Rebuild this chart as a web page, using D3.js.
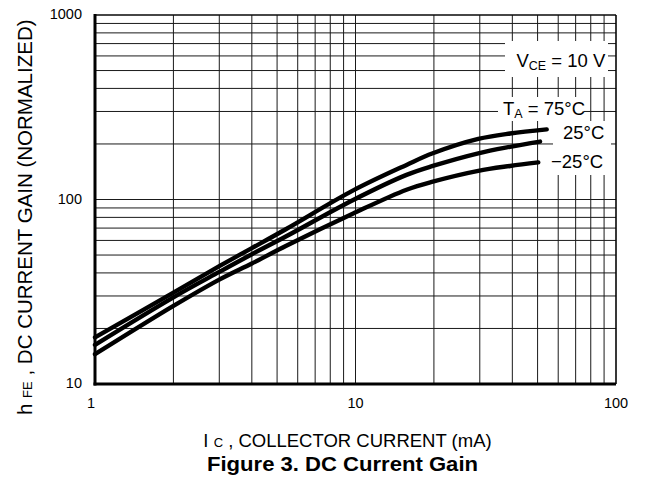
<!DOCTYPE html>
<html>
<head>
<meta charset="utf-8">
<script src="https://cdn.jsdelivr.net/npm/d3@7"></script>
<style>
  html, body { margin: 0; padding: 0; background: #fff; }
  svg { display: block; font-family: "Liberation Sans", Arial, Helvetica, sans-serif; }
</style>
</head>
<body>
<svg id="chart" width="645" height="495"></svg>
<script>
// Collector current (mA) and normalized DC current gain, one pair of arrays per ambient temperature
const currentMA_75 = [1, 2, 3, 4, 5.4, 9.8, 15.7, 19.8, 29.6, 39.2, 54.2];
const gain_75      = [17.9, 31.3, 43.5, 54.5, 69, 112, 154, 178, 213, 228, 240];

const currentMA_25 = [1, 2, 3, 4, 5.4, 9.8, 15.7, 19.8, 29.6, 39.2, 51.1];
const gain_25      = [16.3, 29.5, 40.5, 50.5, 63, 99.4, 136, 152, 178, 193, 206];

const currentMA_m25 = [1, 2, 3, 4, 5.4, 9.8, 15.7, 19.8, 29.6, 39.2, 50.3];
const gain_m25      = [14.5, 26.5, 36.8, 45, 56, 84, 113, 125, 143, 152, 159];

const xTickLabels = [1, 10, 100];
const yTickLabels = [10, 100, 1000];
const curveLabels = ["25°C", "\u221225°C"];

const svg = d3.select("#chart");

const x = d3.scaleLog().domain([1, 100]).range([95, 616]);
const y = d3.scaleLog().domain([10, 1000]).range([384, 15]);

// log grid
const grid = svg.append("g").attr("stroke", "#1a1a1a").attr("stroke-width", 1).attr("fill", "none");
grid.selectAll("line.v").data(x.ticks()).join("line")
  .attr("class", "v")
  .attr("x1", d => x(d)).attr("x2", d => x(d))
  .attr("y1", y(1000)).attr("y2", y(10));
grid.selectAll("line.h").data(y.ticks()).join("line")
  .attr("class", "h")
  .attr("x1", x(1)).attr("x2", x(100))
  .attr("y1", d => y(d)).attr("y2", d => y(d));

// white panels behind the annotations
const panels = [
  [505, 41, 103, 36],
  [498, 97, 86, 24],
  [553, 121, 58, 26],
  [545, 147, 61, 28]
];
svg.append("g").selectAll("rect").data(panels).join("rect")
  .attr("x", d => d[0]).attr("y", d => d[1])
  .attr("width", d => d[2]).attr("height", d => d[3])
  .attr("fill", "#fff");

// gain curves
const line = d3.line()
  .x(d => x(d[0]))
  .y(d => y(d[1]))
  .curve(d3.curveCatmullRom.alpha(0.5));

const series = [
  d3.zip(currentMA_75, gain_75),
  d3.zip(currentMA_25, gain_25),
  d3.zip(currentMA_m25, gain_m25)
];
svg.append("g").selectAll("path").data(series).join("path")
  .attr("d", line)
  .attr("fill", "none")
  .attr("stroke", "#000")
  .attr("stroke-width", 4.4)
  .attr("stroke-linecap", "round")
  .attr("stroke-linejoin", "round");

// frame: heavy left/bottom, thin top/right
svg.append("line").attr("x1", x(1)).attr("x2", x(100)).attr("y1", y(1000)).attr("y2", y(1000))
  .attr("stroke", "#000").attr("stroke-width", 1.2);
svg.append("line").attr("x1", x(100)).attr("x2", x(100)).attr("y1", y(1000)).attr("y2", y(10))
  .attr("stroke", "#000").attr("stroke-width", 1.2);
svg.append("line").attr("x1", x(1)).attr("x2", x(1)).attr("y1", y(1000) - 1).attr("y2", y(10) + 1.5)
  .attr("stroke", "#000").attr("stroke-width", 3);
svg.append("line").attr("x1", x(1) - 1.5).attr("x2", x(100)).attr("y1", y(10)).attr("y2", y(10))
  .attr("stroke", "#000").attr("stroke-width", 3);

// tick labels
svg.append("g").selectAll("text").data(yTickLabels).join("text")
  .attr("x", 82).attr("y", d => y(d) + 4)
  .attr("text-anchor", "end")
  .attr("font-size", 14.5)
  .text(d => d);
svg.append("g").selectAll("text").data(xTickLabels).join("text")
  .attr("x", (d, i) => x(d) + (i === 0 ? -4 : 0)).attr("y", 407.5)
  .attr("text-anchor", "middle")
  .attr("font-size", 14.5)
  .text(d => d);

// annotations
const vce = svg.append("text").attr("x", 516.5).attr("y", 66.5).attr("font-size", 18.5);
vce.append("tspan").text("V");
vce.append("tspan").attr("font-size", 12.5).attr("dy", 3).text("CE");
vce.append("tspan").attr("dy", -3).text(" = 10 V");

const ta = svg.append("text").attr("x", 503).attr("y", 115).attr("font-size", 18.5);
ta.append("tspan").text("T");
ta.append("tspan").attr("font-size", 12.5).attr("dy", 3).text("A");
ta.append("tspan").attr("dy", -3).text(" = 75°C");

svg.append("text").attr("x", 563).attr("y", 138.5).attr("font-size", 18.5).text(curveLabels[0]);
svg.append("text").attr("x", 551).attr("y", 167.5).attr("font-size", 18.5).text(curveLabels[1]);

// axis titles
const xt = svg.append("text").attr("x", 347.5).attr("y", 446.5)
  .attr("text-anchor", "middle").attr("font-size", 18.5);
xt.append("tspan").text("I ");
xt.append("tspan").attr("font-size", 13).text("C");
xt.append("tspan").text(" , COLLECTOR CURRENT (mA)");

const yt = svg.append("text")
  .attr("transform", "translate(32,415) rotate(-90)")
  .attr("text-anchor", "start").attr("font-size", 20.5);
yt.append("tspan").text("h ");
yt.append("tspan").attr("font-size", 13).text("FE");
yt.append("tspan").text(" , DC CURRENT GAIN (NORMALIZED)");

svg.append("text").attr("x", 207).attr("y", 471)
  .attr("font-size", 20).attr("font-weight", "bold")
  .attr("textLength", 271).attr("lengthAdjust", "spacingAndGlyphs")
  .text("Figure 3. DC Current Gain");
</script>
</body>
</html>
